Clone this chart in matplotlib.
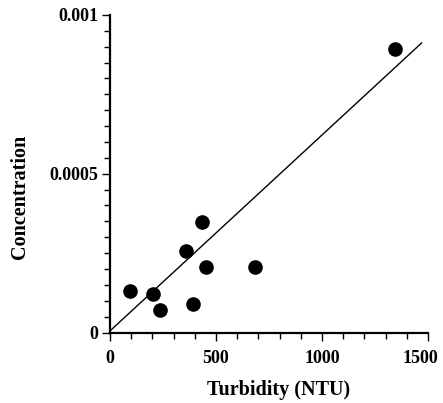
import matplotlib
matplotlib.use("Agg")
import matplotlib.pyplot as plt
import matplotlib.transforms as mtransforms
from matplotlib.ticker import MultipleLocator

# turbidity (NTU) vs concentration
turbidity = [94, 204, 237, 357, 390, 435, 453, 683, 1343]
concentration = [0.000130, 0.000122, 0.0000716, 0.000256, 0.0000905,
                 0.000348, 0.000205, 0.000205, 0.000892]

# fitted line end points
fit_x = [0, 1470]
fit_y = [0.000005, 0.000912]

plt.rcParams['font.family'] = ['Liberation Serif', 'DejaVu Serif']
plt.rcParams['font.weight'] = 'bold'

W, H = 443, 403
fig = plt.figure(figsize=(W / 100, H / 100), dpi=100)
ax = fig.add_axes([110 / W, 1 - 332.5 / H, 318 / W, 317.5 / H])

ax.plot(fit_x, fit_y, color='black', lw=1.0)
ax.plot(turbidity, concentration, 'o', color='black', markersize=9.5)

ax.set_xlim(0, 1500)
ax.set_ylim(0, 0.001)
ax.set_xticks([0, 500, 1000, 1500])
ax.set_yticks([0, 0.0005, 0.001])
ax.set_yticklabels(['0', '0.0005', '0.001'])
ax.xaxis.set_minor_locator(MultipleLocator(100))
ax.yaxis.set_minor_locator(MultipleLocator(0.00005))

for s in ['top', 'right']:
    ax.spines[s].set_visible(False)
for s in ['left', 'bottom']:
    ax.spines[s].set_linewidth(1.6)

ax.tick_params(which='both', direction='out', width=1.0, labelsize=13)
ax.tick_params(which='major', length=5.5)
ax.tick_params(which='minor', length=4.5)
ax.tick_params(axis='x', which='major', pad=7)
ax.tick_params(axis='y', which='major', pad=3)

# last x tick label sits a little inside the figure edge
last = ax.get_xticklabels()[-1]
last.set_transform(last.get_transform() +
                   mtransforms.ScaledTranslation(-0.08, 0, fig.dpi_scale_trans))

fig.text(278.5 / W, 1 - 390 / H, 'Turbidity (NTU)', fontsize=14.5,
         fontweight='bold', ha='center', va='center')
fig.text(20 / W, 1 - 197 / H, 'Concentration', fontsize=14.5,
         fontweight='bold', ha='center', va='center', rotation=90)

fig.savefig('out.png', dpi=100)
